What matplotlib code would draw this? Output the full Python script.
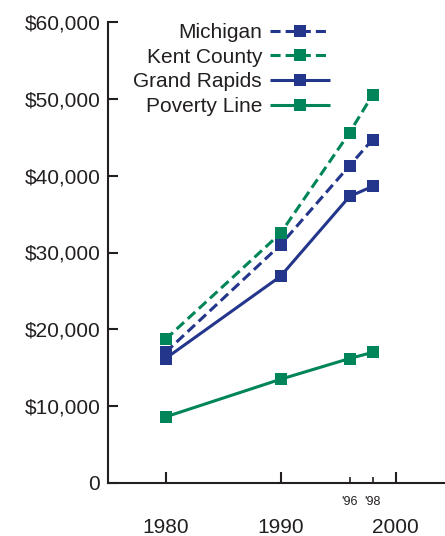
import matplotlib
matplotlib.use('Agg')
import matplotlib.pyplot as plt

# ---- data ----
years = [1980, 1990, 1996, 1998]
michigan = [17000, 31000, 41300, 44700]
kent_county = [18700, 32500, 45600, 50500]
grand_rapids = [16200, 26900, 37300, 38600]
poverty_line = [8600, 13500, 16200, 17000]
series_names = ['Michigan', 'Kent County', 'Grand Rapids', 'Poverty Line']
major_years = [1980, 1990, 2000]
major_labels = ['1980', '1990', '2000']
minor_years = [1996, 1998]
minor_labels = ["'96", "'98"]
y_ticks = [0, 10000, 20000, 30000, 40000, 50000, 60000]
y_labels = ['0', '$10,000', '$20,000', '$30,000', '$40,000', '$50,000', '$60,000']

NAVY = '#24368c'
GREEN = '#00855a'
TXT = '#231f20'

plt.rcParams['font.family'] = ['Liberation Sans', 'DejaVu Sans']

W, H = 445, 536
fig = plt.figure(figsize=(W / 100, H / 100), dpi=100)
ax = fig.add_axes([108 / W, 53 / H, 337 / W, 461 / H])

lw = 2.2
ms = 8
dash = (3.3, 1.65)

specs = [
    (michigan, NAVY, True),
    (kent_county, GREEN, True),
    (grand_rapids, NAVY, False),
    (poverty_line, GREEN, False),
]
order = [3, 2, 0, 1]
handles = [None] * 4
for i in order:
    vals, col, dashed = specs[i]
    kw = dict(color=col, lw=lw, marker='s', ms=ms, mec=col, mew=0,
              solid_capstyle='butt', dash_capstyle='butt', clip_on=False)
    if dashed:
        kw['dashes'] = dash
    ln, = ax.plot(years, vals, label=series_names[i], **kw)
    handles[i] = ln

ax.set_xlim(1975, 2004.3)
ax.set_ylim(0, 60000)

for s in ['top', 'right']:
    ax.spines[s].set_visible(False)
for s in ['left', 'bottom']:
    ax.spines[s].set_linewidth(1.5)
    ax.spines[s].set_color(TXT)

ax.set_yticks(y_ticks)
ax.set_yticklabels(y_labels)
ax.tick_params(axis='y', direction='in', length=7, width=1.5, color=TXT,
               labelsize=15, labelcolor=TXT, pad=5.5)

ax.set_xticks(major_years)
ax.set_xticklabels(major_labels)
ax.set_xticks(minor_years, minor=True)
ax.set_xticklabels(minor_labels, minor=True)
ax.tick_params(axis='x', which='major', direction='in', length=8, width=1.5,
               color=TXT, labelsize=15, labelcolor=TXT, pad=25)
ax.tick_params(axis='x', which='minor', direction='in', length=4.5, width=1.2,
               color=TXT, labelsize=9, labelcolor=TXT, pad=9.5)

leg = ax.legend(handles=handles, labels=series_names, markerfirst=False,
                frameon=False, loc='upper right',
                bbox_to_anchor=(330 / W, 1 - 23 / H),
                bbox_transform=fig.transFigure, borderpad=0,
                borderaxespad=0, fontsize=15, handlelength=2.88,
                handletextpad=0.38, labelspacing=0.27, numpoints=1)
for t in leg.get_texts():
    t.set_color(TXT)

fig.savefig('out.png', dpi=100)
